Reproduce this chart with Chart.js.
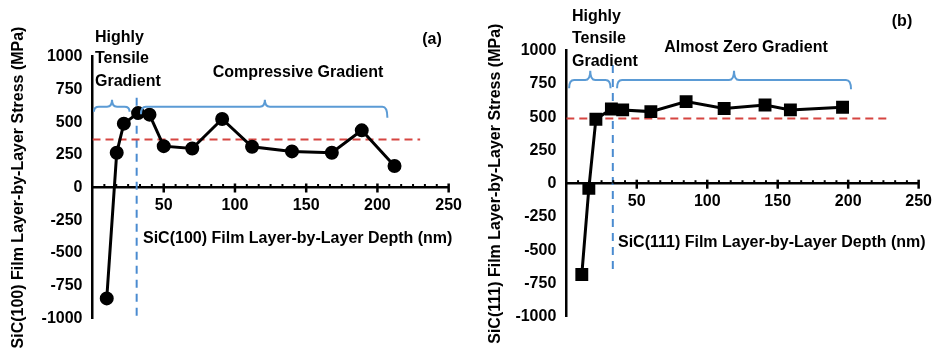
<!DOCTYPE html>
<html>
<head>
<meta charset="utf-8">
<script src="https://cdn.jsdelivr.net/npm/chart.js@4"></script>
<style>
  body { margin: 0; background: #fff; }
  #wrap { position: relative; width: 940px; height: 348px; }
  canvas { position: absolute; top: 0; }
</style>
</head>
<body>
<div id="wrap">
  <canvas id="chartA" width="470" height="348" style="left:0"></canvas>
  <canvas id="chartB" width="470" height="348" style="left:470px"></canvas>
</div>
<script>
// (a) SiC(100)
const depthA = [10, 17, 22, 32, 40, 50, 70, 91, 112, 140, 168, 189, 212];
const stressA = [-848, 266, 488, 569, 557, 316, 298, 524, 311, 276, 266, 437, 164];
const meanA = 367;
const splitA = 31;

// (b) SiC(111)
const depthB = [11, 16, 21, 32, 40, 60, 85, 112, 141, 159, 196];
const stressB = [-683, -35, 485, 562, 555, 542, 617, 565, 592, 555, 575];
const meanB = 490;
const splitB = 33;

const stressTicks = [-1000, -750, -500, -250, 0, 250, 500, 750, 1000];
const depthTicks = [50, 100, 150, 200, 250];

const FONT = '"Liberation Sans", Arial, sans-serif';
Chart.defaults.font.family = FONT;
Chart.defaults.font.size = 16;
Chart.defaults.font.weight = 'bold';
Chart.defaults.color = '#000';

const extras = {
    id: 'extras',
    afterDraw(chart, args, opts) {
        const ctx = chart.ctx;
        const x = chart.scales.x, y = chart.scales.y;
        const y0 = y.getPixelForValue(0);
        ctx.save();
        // major + minor ticks on the depth axis
        ctx.strokeStyle = '#000';
        for (let i = 1; i <= 30; i++) {
            const px = x.getPixelForValue(i * 50 / 6);
            ctx.beginPath();
            if (i % 6 === 0) {
                ctx.lineWidth = 2.5;
                ctx.moveTo(px, y0 - 4);
                ctx.lineTo(px, y0 + 5);
            } else {
                ctx.lineWidth = 2;
                ctx.moveTo(px, y0 - 3.5);
                ctx.lineTo(px, y0);
            }
            ctx.stroke();
        }
        // curly braces
        ctx.strokeStyle = '#5b9bd5';
        ctx.lineWidth = 2;
        opts.braces.forEach(b => {
            const x0 = x.getPixelForValue(b.from), x1 = x.getPixelForValue(b.to);
            const xm = x.getPixelForValue(b.mid);
            const yl = y.getPixelForValue(b.line), yt = y.getPixelForValue(b.tip);
            const ya = y.getPixelForValue(b.endL), yb = y.getPixelForValue(b.endR);
            const r = 5;
            ctx.beginPath();
            ctx.moveTo(x0, ya);
            ctx.quadraticCurveTo(x0, yl, x0 + r, yl);
            ctx.lineTo(xm - r, yl);
            ctx.quadraticCurveTo(xm, yl, xm, yt);
            ctx.quadraticCurveTo(xm, yl, xm + r, yl);
            ctx.lineTo(x1 - r, yl);
            ctx.quadraticCurveTo(x1, yl, x1, yb);
            ctx.stroke();
        });
        // labels
        ctx.fillStyle = '#000';
        ctx.font = 'bold 16px ' + FONT;
        ctx.textBaseline = 'middle';
        opts.texts.forEach(t => {
            ctx.textAlign = t.align || 'left';
            ctx.fillText(t.text, t.x, t.y);
        });
        ctx.restore();
    }
};

function makeChart(id, depth, stress, mean, split, splitTop, style, radius, cfg) {
    const pts = depth.map((d, i) => ({x: d, y: stress[i]}));
    new Chart(document.getElementById(id).getContext('2d'), {
        type: 'line',
        data: {
            datasets: [{
                data: pts,
                borderColor: '#000',
                borderWidth: 3,
                pointStyle: style,
                pointRadius: radius,
                pointBackgroundColor: '#000',
                pointBorderColor: '#000',
                tension: 0
            }, {
                data: [{x: 0, y: mean}, {x: 230, y: mean}],
                borderColor: '#d64541',
                borderWidth: 2,
                borderDash: [8, 5],
                pointRadius: 0
            }, {
                data: [{x: split, y: splitTop}, {x: split, y: cfg.splitBottom}],
                borderColor: '#4a8bd0',
                borderWidth: 2,
                borderDash: [8, 6],
                pointRadius: 0
            }]
        },
        options: {
            responsive: false,
            animation: false,
            layout: {padding: {left: 0, top: cfg.top, right: cfg.right, bottom: cfg.bottom}},
            plugins: {
                legend: {display: false},
                tooltip: {enabled: false},
                extras: {braces: cfg.braces, texts: cfg.texts}
            },
            scales: {
                x: {
                    type: 'linear', min: 0, max: 250,
                    position: {y: 0},
                    afterBuildTicks: s => { s.ticks = depthTicks.map(v => ({value: v})); },
                    grid: {display: true, drawOnChartArea: false, drawTicks: false},
                    border: {color: '#000', width: 2.5},
                    ticks: {padding: 8, maxRotation: 0, autoSkip: false, callback: v => String(v)}
                },
                y: {
                    type: 'linear', min: -1000, max: 1000,
                    afterBuildTicks: s => { s.ticks = stressTicks.map(v => ({value: v})); },
                    afterFit: s => { s.width = cfg.axisX; },
                    grid: {display: true, drawOnChartArea: false, drawTicks: false},
                    border: {color: '#000', width: 2.5},
                    ticks: {padding: 10, callback: v => String(v)},
                    title: {display: true, text: cfg.yTitle, padding: {top: cfg.titlePad, bottom: 0}}
                }
            }
        },
        plugins: [extras]
    });
}

makeChart('chartA', depthA, stressA, meanA, splitA, 686, 'circle', 5.5, {
    top: 56.7, bottom: 29.7, right: 17.3, axisX: 92.5, titlePad: 9, splitBottom: -1000,
    yTitle: 'SiC(100) Film Layer-by-Layer Stress (MPa)',
    braces: [
        {from: 1, to: 26, mid: 13.7, line: 617, tip: 670, endL: 579, endR: 579},
        {from: 34, to: 207, mid: 121, line: 617, tip: 670, endL: 560, endR: 534}
    ],
    texts: [
        {text: 'Highly', x: 95, y: 38},
        {text: 'Tensile', x: 95, y: 59},
        {text: 'Gradient', x: 95, y: 82},
        {text: 'Compressive Gradient', x: 298, y: 73, align: 'center'},
        {text: '(a)', x: 432, y: 40, align: 'center'},
        {text: 'SiC(100) Film Layer-by-Layer Depth (nm)', x: 143, y: 239}
    ]
});

makeChart('chartB', depthB, stressB, meanB, splitB, 892, 'rect', 7, {
    top: 50.7, bottom: 31.3, right: 13.3, axisX: 96.3, titlePad: 16, splitBottom: -683,
    yTitle: 'SiC(111) Film Layer-by-Layer Stress (MPa)',
    braces: [
        {from: 2, to: 31.4, mid: 17, line: 780, tip: 850, endL: 718, endR: 718},
        {from: 36, to: 202, mid: 119, line: 780, tip: 850, endL: 718, endR: 710}
    ],
    texts: [
        {text: 'Highly', x: 102, y: 17},
        {text: 'Tensile', x: 102, y: 39},
        {text: 'Gradient', x: 102, y: 62},
        {text: 'Almost Zero Gradient', x: 276, y: 48, align: 'center'},
        {text: '(b)', x: 432, y: 22, align: 'center'},
        {text: 'SiC(111) Film Layer-by-Layer Depth (nm)', x: 148, y: 243}
    ]
});
</script>
</body>
</html>
